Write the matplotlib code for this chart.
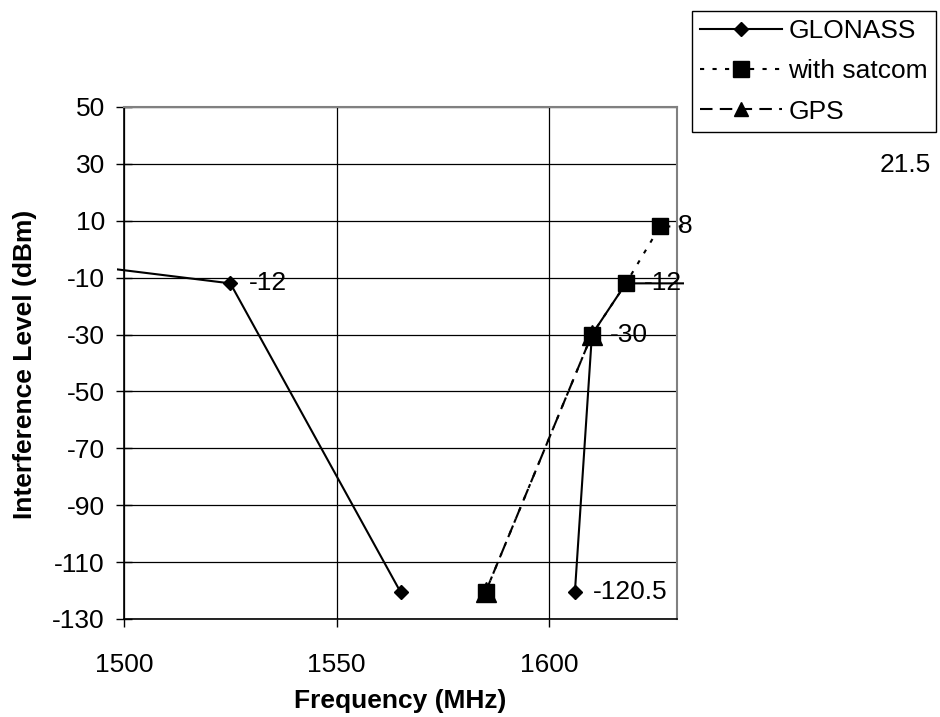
import numpy as np
import matplotlib
matplotlib.use('Agg')
import matplotlib.pyplot as plt
from matplotlib.patches import Rectangle

plt.rcParams['font.family'] = ['Liberation Sans', 'DejaVu Sans']
plt.rcParams['axes.unicode_minus'] = False  # 하이픈 마이너스 사용

# --- 데이터 ---
# GLONASS: 1565 와 1606 사이는 끊어진 선 (nan)
glonass_x = [1460, 1525, 1565, np.nan, 1606, 1610, 1618, 1660]
glonass_y = [0, -12, -120.5, np.nan, -120.5, -30, -12, -12]
satcom_x = [1585, 1610, 1618, 1626, 1660]
satcom_y = [-120.5, -30, -12, 8, 8]
gps_x = [1585, 1610]
gps_y = [-120.5, -30]

# 데이터 레이블 (x, y, 텍스트)
label_x = [1525, 1606, 1610, 1618, 1626]
label_y = [-12, -120.5, -30, -12, 8]
label_txt = ['-12', '-120.5', '-30', '-12', '8']

x_ticks = [1500, 1550, 1600]
y_ticks = list(range(-130, 51, 20))

FS = 19

fig = plt.figure(figsize=(9.4, 7.17), dpi=100)
ax = fig.add_axes([124 / 940, 98 / 717, 553 / 940, 512 / 717])

# Excel 처럼 플롯 영역보다 조금 넓게 선을 그림
clip = Rectangle((-7 / 553, 0), 1 + 14 / 553, 1, transform=ax.transAxes,
                 facecolor='none', edgecolor='none')
ax.add_patch(clip)

l1, = ax.plot(glonass_x, glonass_y, color='black', lw=1.5, marker='D', ms=7.5,
              label='GLONASS', zorder=3)
l2, = ax.plot(satcom_x, satcom_y, color='black', lw=1.5, ls=(0, (2, 4)), marker='s',
              ms=11, label='with satcom', zorder=4)
l3, = ax.plot(gps_x, gps_y, color='black', lw=1.5, ls=(0, (6, 3.5)), marker='^',
              ms=14, label='GPS', zorder=5)
for ln in (l1, l2, l3):
    ln.set_clip_path(clip)

for x, y, t in zip(label_x, label_y, label_txt):
    ax.annotate(t, (x, y), xytext=(13, 0), textcoords='offset points',
                ha='left', va='center', fontsize=FS, zorder=6)

fig.text(880 / 940, 1 - 165 / 717, '21.5', fontsize=FS, ha='left', va='center')

ax.set_xlim(1500, 1630)
ax.set_ylim(-130, 50)
ax.set_xticks(x_ticks)
ax.set_yticks(y_ticks)
ax.grid(True, color='black', lw=0.9)
ax.set_axisbelow(True)

ax.tick_params(axis='x', direction='out', length=5.8, width=1, labelsize=FS, pad=19)
ax.tick_params(axis='y', direction='inout', length=11.5, width=1, labelsize=FS, pad=8)

for s in ('top', 'right'):
    ax.spines[s].set_color('#808080')
    ax.spines[s].set_linewidth(1.5)
for s in ('left', 'bottom'):
    ax.spines[s].set_color('black')
    ax.spines[s].set_linewidth(1.2)

ax.set_xlabel('Frequency (MHz)', fontsize=FS, fontweight='bold')
ax.set_ylabel('Interference Level (dBm)', fontsize=FS, fontweight='bold')
ax.xaxis.set_label_coords(0.5, (619 - 701) / 512)
ax.xaxis.label.set_va('center')
ax.yaxis.set_label_coords((25 - 124) / 553, (619 - 364) / 512)
ax.yaxis.label.set_va('center')

leg = ax.legend(handles=[l1, l2, l3], loc='upper right',
                bbox_to_anchor=(936 / 940, 1 - 11 / 717), bbox_transform=fig.transFigure,
                fontsize=FS, frameon=True, fancybox=False, framealpha=1,
                edgecolor='black', handlelength=3.1, handletextpad=0.25,
                labelspacing=0.62, borderpad=0.3, borderaxespad=0)
leg.get_frame().set_linewidth(1)
leg.legend_handles[2].set_markersize(10)

fig.savefig('out.png', dpi=100)
